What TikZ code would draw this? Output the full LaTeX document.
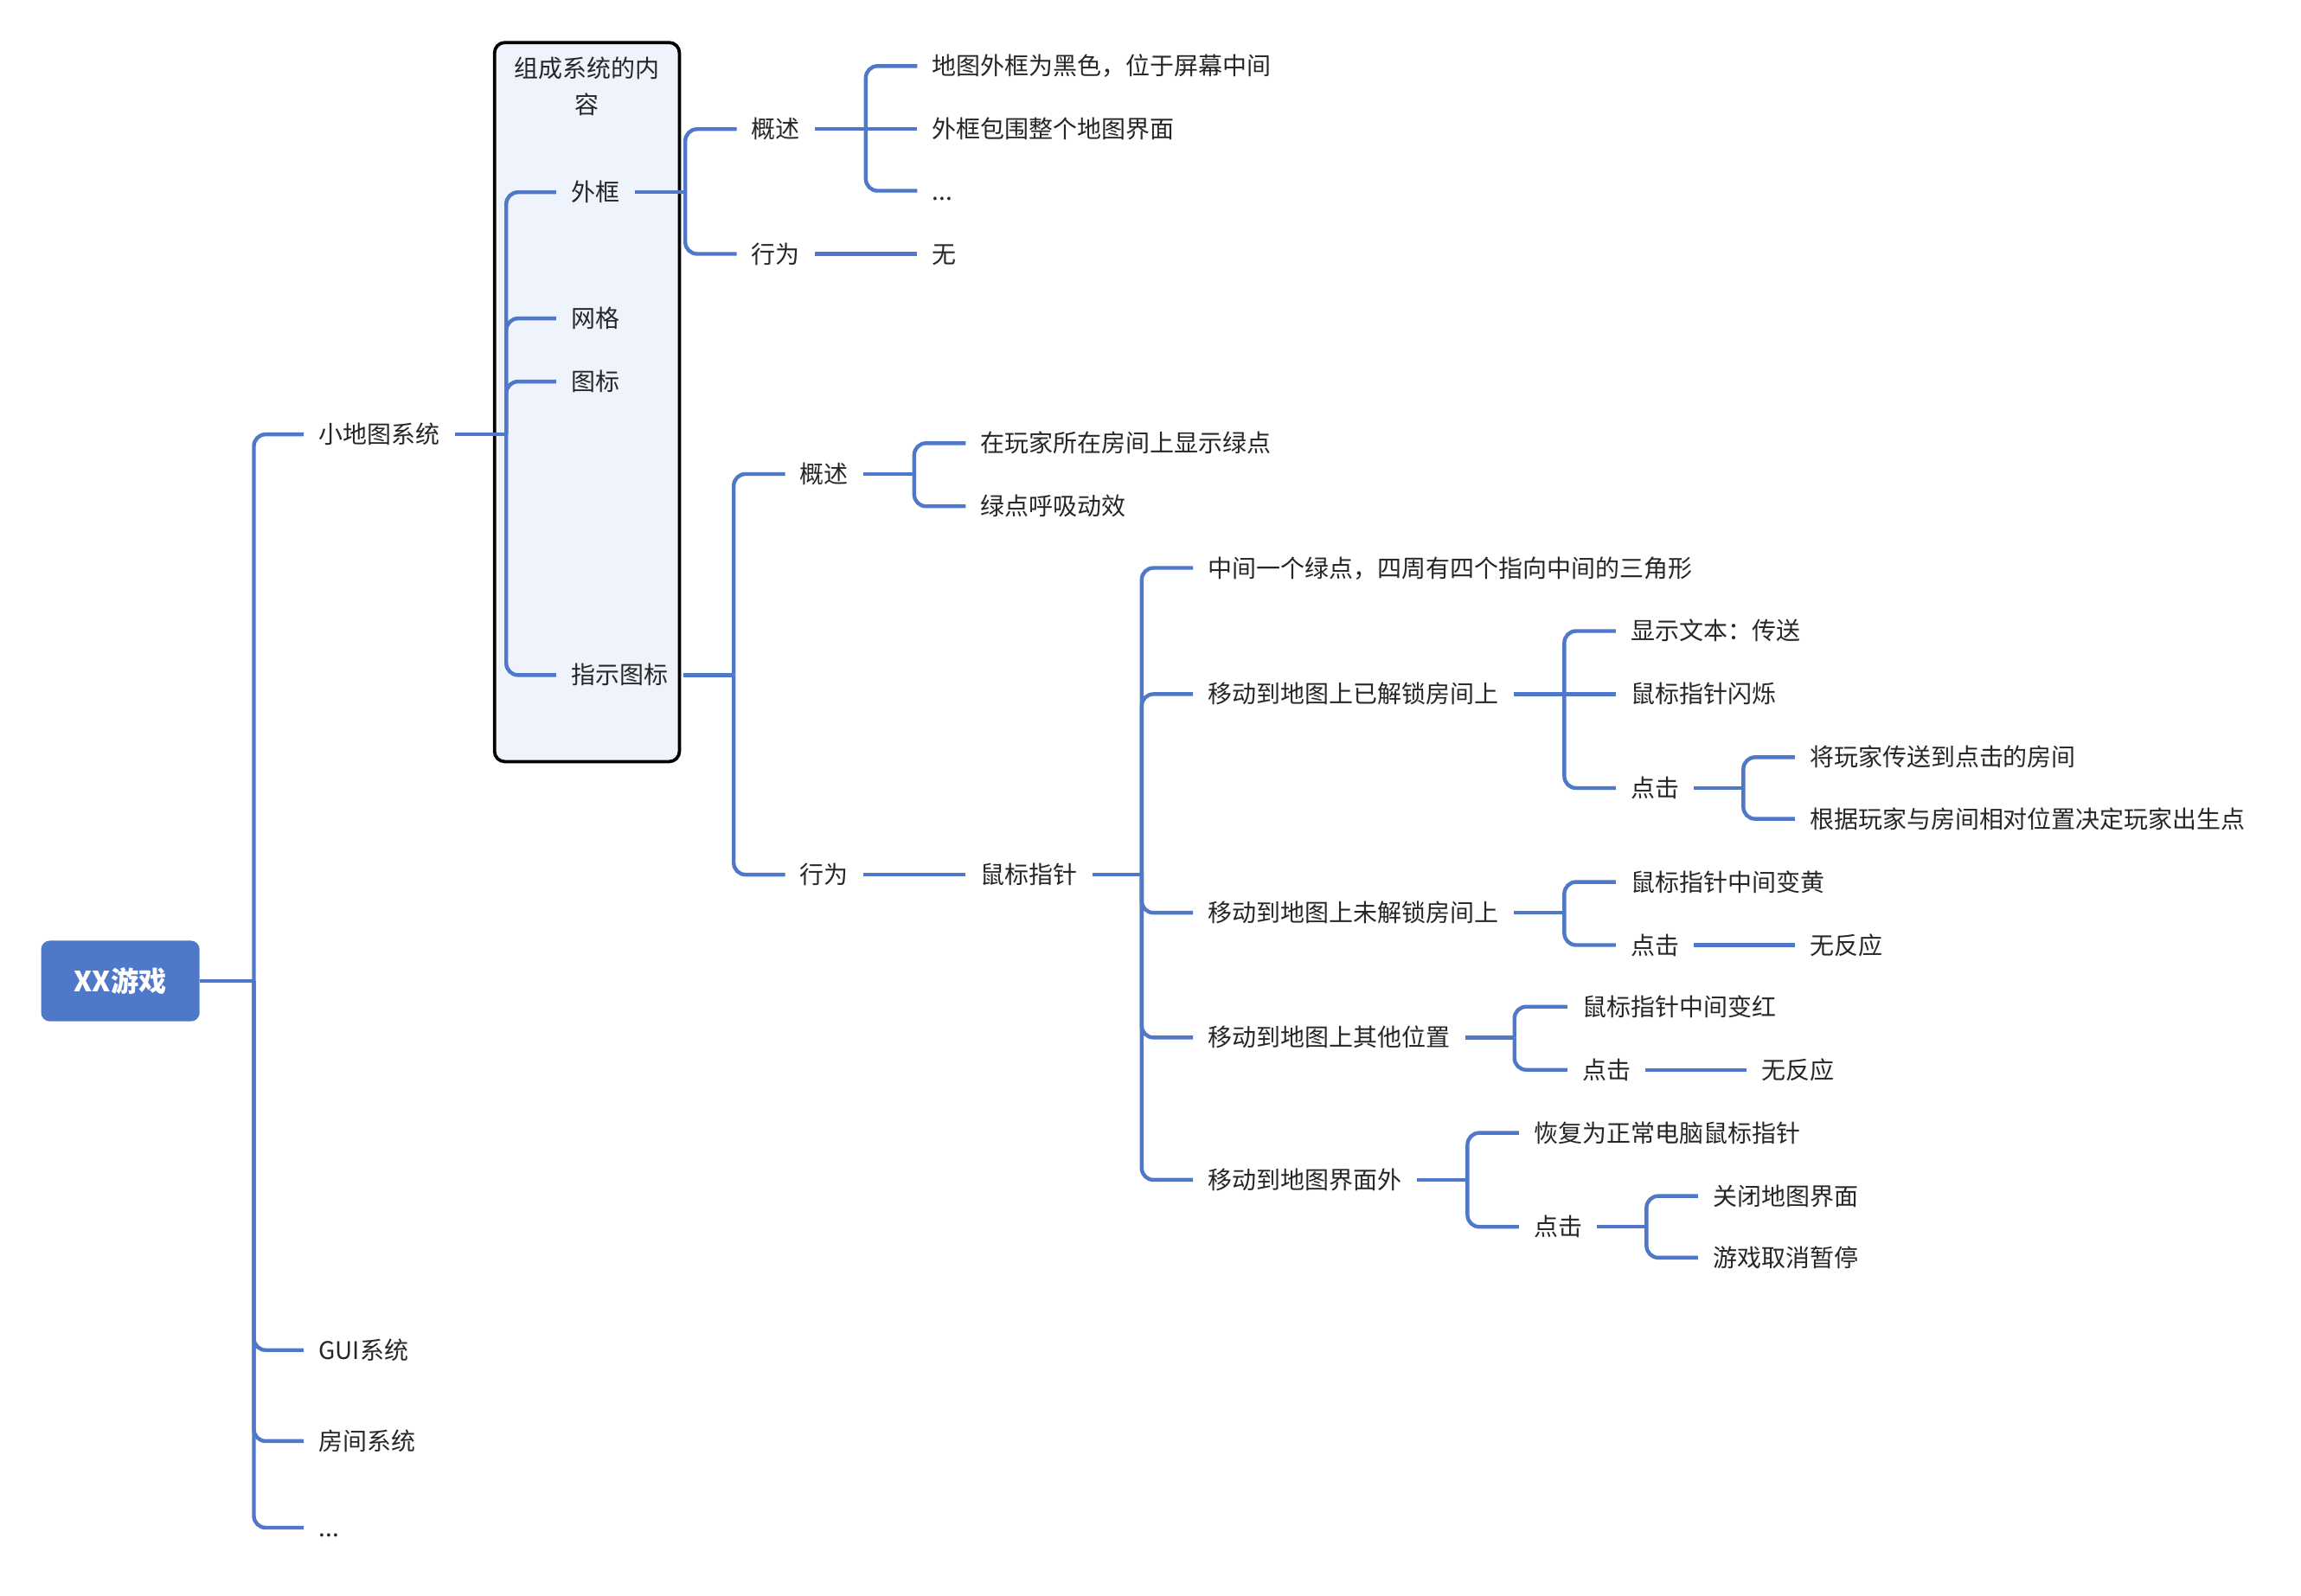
\documentclass[tikz,border=0pt]{standalone}
\usepackage{fontspec}
\setmainfont{Noto Sans CJK SC}
\definecolor{lk}{HTML}{4F78C8}
\definecolor{tx}{HTML}{262626}
\definecolor{boxfill}{HTML}{EEF3FC}
\newcommand\mmlink[3]{%
  \draw[link] (#1.east) -- (#1.east -| #2);
  \foreach \c in {#3}{\draw[link] (#1.east -| #2) |- (\c.west);}%
}
\newcommand\mmstraight[2]{%
  \draw[link] (#1.east) -- (#2.west);%
}
\begin{document}
\begin{tikzpicture}[x=1pt,y=-1pt,
  txt/.style={anchor=west, inner xsep=10pt, inner ysep=0pt, text height=14.4pt, text depth=2pt,
    font=\fontsize{16.5}{20}\selectfont, text=tx},
  link/.style={draw=lk, line width=2.6pt, rounded corners=8pt},
  frame/.style={draw=black, line width=2.2pt, fill=boxfill, rounded corners=7pt, inner sep=0pt},
  rootbox/.style={fill=lk, rounded corners=6pt, inner sep=0pt, text=white,
    font=\fontsize{19}{22}\selectfont\bfseries},
]
\fill[white] (0,0) rectangle (1568,1087);
\useasboundingbox (0,0) rectangle (1568,1087);

% frame box
\node[frame, minimum width=126pt, minimum height=490pt] (box) at (400,274) {};
\node[font=\fontsize{16.5}{25}\selectfont, text=tx, align=center, inner sep=0pt] (boxtitle) at (400,59) {组成系统的内\\容};

% root
\node[rootbox, minimum width=108pt, minimum height=55pt] (root) at (82,668.5) {XX游戏};

% level 1
\node[txt] (a1) at (207,296) {小地图系统};
\node[txt] (a2) at (207,920) {GUI系统};
\node[txt] (a3) at (207,982) {房间系统};
\node[txt] (a4) at (207,1041) {...};

% inside box
\node[txt] (b1) at (379,131) {外框};
\node[txt] (b2) at (379,217) {网格};
\node[txt] (b3) at (379,260) {图标};
\node[txt] (b4) at (379,460) {指示图标};

% 外框
\node[txt] (c1) at (502,88) {概述};
\node[txt] (c2) at (502,173) {行为};
\node[txt] (d1) at (625,45) {地图外框为黑色，位于屏幕中间};
\node[txt] (d2) at (625,88) {外框包围整个地图界面};
\node[txt] (d3) at (625,130) {...};
\node[txt] (d4) at (625,173) {无};

% 指示图标
\node[txt] (e1) at (535,323) {概述};
\node[txt] (e2) at (535,596) {行为};
\node[txt] (f1) at (658,302) {在玩家所在房间上显示绿点};
\node[txt] (f2) at (658,345) {绿点呼吸动效};
\node[txt] (f3) at (658,596) {鼠标指针};

\node[txt] (g1) at (813,387) {中间一个绿点，四周有四个指向中间的三角形};
\node[txt] (g2) at (813,473) {移动到地图上已解锁房间上};
\node[txt] (g3) at (813,622) {移动到地图上未解锁房间上};
\node[txt] (g4) at (813,707) {移动到地图上其他位置};
\node[txt] (g5) at (813,804) {移动到地图界面外};

\node[txt] (h1) at (1101,430) {显示文本：传送};
\node[txt] (h2) at (1101,473) {鼠标指针闪烁};
\node[txt] (h3) at (1101,537) {点击};
\node[txt] (i1) at (1223,516) {将玩家传送到点击的房间};
\node[txt] (i2) at (1223,558) {根据玩家与房间相对位置决定玩家出生点};

\node[txt] (h4) at (1101,601) {鼠标指针中间变黄};
\node[txt] (h5) at (1101,644) {点击};
\node[txt] (i3) at (1223,644) {无反应};

\node[txt] (h6) at (1068,686) {鼠标指针中间变红};
\node[txt] (h7) at (1068,729) {点击};
\node[txt] (i4) at (1190,729) {无反应};

\node[txt] (h8) at (1035,772) {恢复为正常电脑鼠标指针};
\node[txt] (h9) at (1035,836) {点击};
\node[txt] (i5) at (1157,815) {关闭地图界面};
\node[txt] (i6) at (1157,857) {游戏取消暂停};

% trunk coordinates
\coordinate (Troot) at (173,0);
\coordinate (Ta1) at (345,0);
\coordinate (Tb1) at (467,0);
\coordinate (Tc1) at (590,0);
\coordinate (Tb4) at (500,0);
\coordinate (Te1) at (623,0);
\coordinate (Tf3) at (778,0);
\coordinate (Tg2) at (1066,0);
\coordinate (Th3) at (1188,0);
\coordinate (Tg3) at (1066,0);
\coordinate (Tg4) at (1032,0);
\coordinate (Tg5) at (1000,0);
\coordinate (Th9) at (1122,0);

% connectors
\mmlink{root}{Troot}{a1,a2,a3,a4}
\mmlink{a1}{Ta1}{b1,b2,b3,b4}
\mmlink{b1}{Tb1}{c1,c2}
\mmlink{c1}{Tc1}{d1,d3}
\mmstraight{c1}{d2}
\mmstraight{c2}{d4}
\mmlink{b4}{Tb4}{e1,e2}
\mmlink{e1}{Te1}{f1,f2}
\mmstraight{e2}{f3}
\mmlink{f3}{Tf3}{g1,g2,g3,g4,g5}
\mmlink{g2}{Tg2}{h1,h3}
\mmstraight{g2}{h2}
\mmlink{h3}{Th3}{i1,i2}
\mmlink{g3}{Tg3}{h4,h5}
\mmstraight{h5}{i3}
\mmlink{g4}{Tg4}{h6,h7}
\mmstraight{h7}{i4}
\mmlink{g5}{Tg5}{h8,h9}
\mmlink{h9}{Th9}{i5,i6}
\end{tikzpicture}
\end{document}
